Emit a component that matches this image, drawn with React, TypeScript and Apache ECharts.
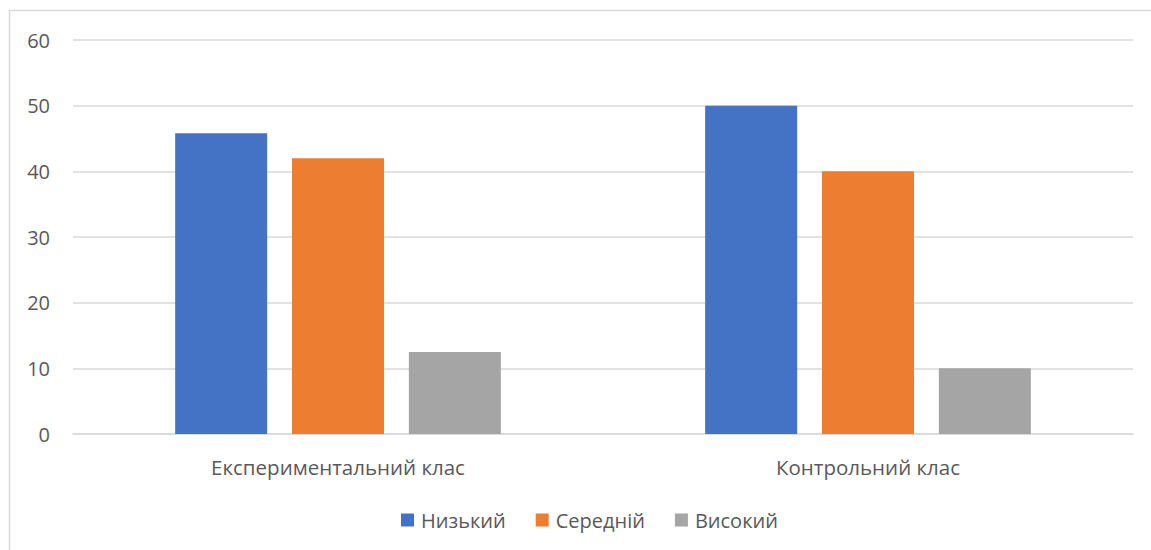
import React, { useEffect, useRef } from "react";
import * as echarts from "echarts";

const categories = ["Експериментальний клас", "Контрольний клас"];
const seriesNames = ["Низький", "Середній", "Високий"];
const lowValues = [45.8, 50];
const midValues = [42, 40];
const highValues = [12.5, 10];
const colors = ["#4472C4", "#ED7D31", "#A5A5A5"];

export default function App() {
  const ref = useRef<HTMLDivElement>(null);
  useEffect(() => {
    if (!ref.current) return;
    const chart = echarts.init(ref.current, null, { renderer: "svg" });
    const font = "'Open Sans', 'Noto Sans', sans-serif";
    const data = [lowValues, midValues, highValues];
    chart.setOption({
      animation: false,
      backgroundColor: "#ffffff",
      textStyle: { fontFamily: font },
      graphic: [
        {
          type: "rect",
          shape: { x: 9.5, y: 10.5, width: 1160, height: 560 },
          style: { fill: "none", stroke: "#d9d9d9", lineWidth: 1.5 },
          silent: true,
        },
      ],
      grid: { left: 73, right: 18, top: 40, bottom: 116, containLabel: false },
      legend: {
        bottom: 15,
        left: 396,
        itemWidth: 13,
        itemHeight: 13,
        itemGap: 30,
        icon: "rect",
        textStyle: { fontSize: 20, color: "#595959", fontFamily: font, padding: [0, 0, 0, 2] },
        data: seriesNames,
      },
      xAxis: {
        type: "category",
        data: categories,
        axisLine: { show: true, lineStyle: { color: "#d9d9d9", width: 1.5 } },
        axisTick: { show: false },
        axisLabel: { fontSize: 20.5, color: "#595959", margin: 22, fontFamily: font },
      },
      yAxis: {
        type: "value",
        min: 0,
        max: 60,
        interval: 10,
        axisLine: { show: false },
        axisTick: { show: false },
        splitLine: { lineStyle: { color: "#d9d9d9", width: 1.5 } },
        axisLabel: { fontSize: 20, color: "#595959", margin: 23, fontFamily: font },
      },
      series: seriesNames.map((name, i) => ({
        name,
        type: "bar",
        data: data[i],
        barWidth: 92,
        barGap: "27%",
        itemStyle: { color: colors[i] },
      })),
    });
    return () => chart.dispose();
  }, []);
  return (
    <div
      ref={ref}
      style={{ position: "fixed", left: 0, top: 0, width: 1151, height: 550 }}
    />
  );
}
